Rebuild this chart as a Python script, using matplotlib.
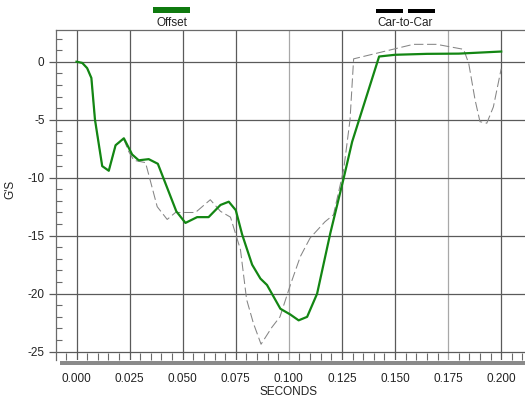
import matplotlib
matplotlib.use("Agg")
import matplotlib.pyplot as plt
from matplotlib.patches import Rectangle
from matplotlib.ticker import MultipleLocator, FixedLocator

plt.rcParams['font.family'] = ['Liberation Sans', 'DejaVu Sans']

# Offset (green, solid)
offset_t = [0.000, 0.0027, 0.005, 0.007, 0.0087, 0.0121, 0.0152, 0.0184, 0.0223,
            0.0262, 0.0293, 0.034, 0.0383, 0.047, 0.0513, 0.0568, 0.0622, 0.0678,
            0.0717, 0.0750, 0.078, 0.0827, 0.0866, 0.0897, 0.096, 0.1007, 0.1046,
            0.1086, 0.1133, 0.1195, 0.1258, 0.1298, 0.1425, 0.150, 0.165, 0.180, 0.200]
offset_g = [0.0, -0.1, -0.55, -1.4, -5.0, -9.0, -9.4, -7.2, -6.6,
            -8.0, -8.5, -8.4, -8.8, -12.9, -13.9, -13.4, -13.4, -12.35,
            -12.07, -12.8, -14.9, -17.5, -18.7, -19.25, -21.3, -21.8, -22.3,
            -22.0, -20.0, -14.8, -10.05, -6.9, 0.45, 0.6, 0.68, 0.7, 0.88]

# Car-to-Car (gray, dashed)
car_t = [0.000, 0.0027, 0.005, 0.007, 0.0087, 0.0121, 0.0152, 0.0184, 0.0223,
         0.0246, 0.027, 0.0325, 0.038, 0.0427, 0.0466, 0.056, 0.063, 0.0678,
         0.0725, 0.0772, 0.0801, 0.0833, 0.0869, 0.092, 0.0958, 0.1007, 0.1054,
         0.110, 0.117, 0.121, 0.1258, 0.127, 0.1288, 0.1305, 0.1586, 0.1696,
         0.1823, 0.1847, 0.1877, 0.190, 0.1932, 0.1963, 0.200]
car_g = [0.0, -0.1, -0.55, -1.4, -5.0, -9.0, -9.4, -7.2, -6.7,
         -7.75, -8.5, -8.7, -12.5, -13.6, -13.0, -13.0, -11.9, -12.9,
         -13.4, -16.2, -20.5, -22.55, -24.36, -22.9, -22.0, -19.25, -16.8,
         -15.2, -13.8, -13.2, -9.3, -7.6, -5.0, 0.25, 1.5, 1.5,
         1.07, -0.15, -3.3, -5.17, -5.3, -3.9, -0.6]

xticks = [0.000, 0.025, 0.050, 0.075, 0.100, 0.125, 0.150, 0.175, 0.200]
xtick_labels = ["0.000", "0.025", "0.050", "0.075", "0.100", "0.125", "0.150", "0.175", "0.200"]
yticks = [0, -5, -10, -15, -20, -25]
ytick_labels = ["0", "-5", "-10", "-15", "-20", "-25"]

W, H = 525, 398
fig = plt.figure(figsize=(W / 100, H / 100), dpi=100)
left_px, right_px, top_px, bot_px = 55.7, 525, 29.5, 360
ax = fig.add_axes([left_px / W, 1 - bot_px / H, (right_px - left_px) / W, (bot_px - top_px) / H])

ax.set_xlim(-0.0098, 0.2112)
ax.set_ylim(-25.72, 2.78)

# grid lines
light = {0.100, 0.175}
for xv in xticks:
    ax.axvline(xv, color='#a8a8a8' if round(xv, 3) in light else '#5a5a5a', lw=0.9, zorder=1)
for yv in yticks:
    ax.axhline(yv, color='#5a5a5a', lw=0.9, zorder=1)

ax.plot(car_t, car_g, color='#858585', lw=0.75, dashes=(9, 3.5), zorder=2)
ax.plot(offset_t, offset_g, color='#138613', lw=1.6, zorder=3)

for s in ['right', 'bottom']:
    ax.spines[s].set_visible(False)
for s in ['left', 'top']:
    ax.spines[s].set_color('#6a6a6a')
    ax.spines[s].set_linewidth(0.9)

ax.xaxis.set_major_locator(FixedLocator(xticks))
ax.set_xticklabels(xtick_labels)
ax.xaxis.set_minor_locator(MultipleLocator(0.005))
ax.yaxis.set_major_locator(FixedLocator(yticks))
ax.set_yticklabels(ytick_labels)
ax.yaxis.set_minor_locator(MultipleLocator(1))

ax.tick_params(axis='x', which='major', length=0, pad=9.5, labelsize=8.5, colors='#222222')
ax.tick_params(axis='x', which='minor', direction='in', length=5, width=0.8, color='#6a6a6a')
ax.tick_params(axis='y', which='major', direction='out', length=5, width=0.9, pad=3,
               labelsize=8.5, color='#5a5a5a', labelcolor='#222222')
ax.tick_params(axis='y', which='minor', direction='in', length=4.5, width=0.8, color='#6a6a6a')

# bottom shadow bar
fig.add_artist(Rectangle((60 / W, 1 - 364.5 / H), 1 - 60 / W, 4 / H,
                         transform=fig.transFigure, color='#8a8a8a', lw=0))

# labels
fig.text(288 / W, 1 - 392 / H, 'SECONDS', ha='center', va='center', fontsize=8.5, color='#222222')
fig.text(10.5 / W, 1 - 189 / H, "G'S", ha='center', va='center', rotation=90, fontsize=8.5, color='#222222')

# legend-like header
fig.add_artist(Rectangle((153.3 / W, 1 - 13.3 / H), 36.7 / W, 6 / H,
                         transform=fig.transFigure, color='#0f7a0f', lw=0))
fig.text(172 / W, 1 - 23 / H, 'Offset', ha='center', va='center', fontsize=8.5, color='#222222')
fig.add_artist(Rectangle((375.7 / W, 1 - 12.5 / H), 27.6 / W, 3.5 / H,
                         transform=fig.transFigure, color='#000000', lw=0))
fig.add_artist(Rectangle((407.7 / W, 1 - 12.5 / H), 27.3 / W, 3.5 / H,
                         transform=fig.transFigure, color='#000000', lw=0))
fig.text(405 / W, 1 - 23 / H, 'Car-to-Car', ha='center', va='center', fontsize=8.5, color='#222222')

fig.savefig('out.png', dpi=100)
